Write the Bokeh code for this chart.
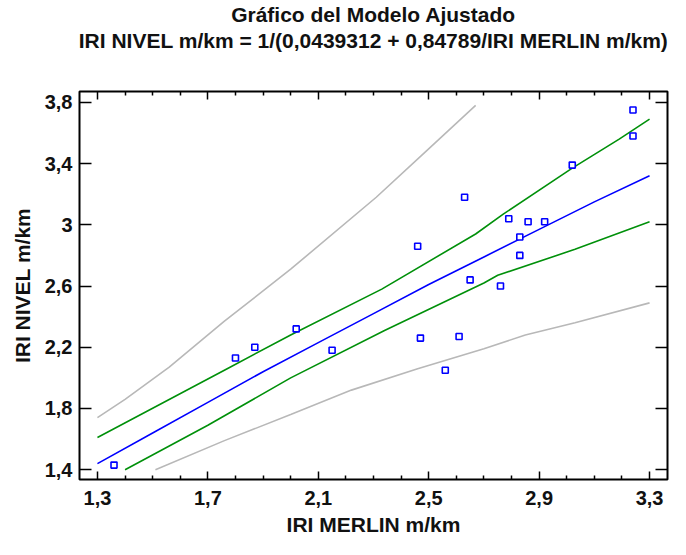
from bokeh.plotting import figure
from bokeh.models import Title, LinearAxis, FixedTicker, CustomJSTickFormatter, Range1d
from bokeh.embed import file_html
from bokeh.resources import INLINE

# ---- data ----
merlin = [1.36, 1.80, 1.87, 2.02, 2.15, 2.46, 2.47, 2.56, 2.61, 2.63,
          2.65, 2.76, 2.79, 2.83, 2.83, 2.86, 2.92, 3.02, 3.24, 3.24]
nivel = [1.43, 2.13, 2.20, 2.32, 2.18, 2.86, 2.26, 2.05, 2.27, 3.18,
         2.64, 2.60, 3.04, 2.80, 2.92, 3.02, 3.02, 3.39, 3.75, 3.58]

fit_x = [1.3, 1.5, 1.7, 1.9, 2.1, 2.3, 2.5, 2.7, 2.9, 3.1, 3.3]
fit_y = [1.44, 1.64, 1.84, 2.04, 2.23, 2.42, 2.61, 2.79, 2.97, 3.15, 3.32]

conf_up_x = [1.30, 1.77, 2.00, 2.33, 2.67, 2.77, 3.02, 3.19, 3.30]
conf_up_y = [1.61, 2.06, 2.28, 2.58, 2.94, 3.07, 3.37, 3.56, 3.69]

conf_lo_x = [1.40, 1.70, 2.00, 2.34, 2.70, 2.75, 3.03, 3.30]
conf_lo_y = [1.40, 1.69, 2.00, 2.31, 2.62, 2.67, 2.84, 3.02]

pred_up_x = [1.30, 1.40, 1.56, 1.76, 2.00, 2.31, 2.49, 2.67]
pred_up_y = [1.74, 1.86, 2.07, 2.37, 2.71, 3.18, 3.48, 3.78]

pred_lo_x = [1.51, 1.76, 2.00, 2.22, 2.46, 2.70, 2.85, 3.03, 3.30]
pred_lo_y = [1.40, 1.59, 1.76, 1.92, 2.06, 2.19, 2.28, 2.36, 2.49]

x_ticks = [1.3, 1.7, 2.1, 2.5, 2.9, 3.3]
x_tick_labels = ["1,3", "1,7", "2,1", "2,5", "2,9", "3,3"]
x_minor_ticks = [1.4, 1.5, 1.6, 1.8, 1.9, 2.0, 2.2, 2.3, 2.4,
                 2.6, 2.7, 2.8, 3.0, 3.1, 3.2]
y_ticks = [1.4, 1.8, 2.2, 2.6, 3.0, 3.4, 3.8]
y_tick_labels = ["1,4", "1,8", "2,2", "2,6", "3", "3,4", "3,8"]

title_1 = "Gráfico del Modelo Ajustado"
title_2 = "IRI NIVEL m/km = 1/(0,0439312 + 0,84789/IRI MERLIN m/km)"
x_label = "IRI MERLIN m/km"
y_label = "IRI NIVEL m/km"

FONT = "Liberation Sans"
BLUE = "#0000ff"
GREEN = "#00900a"
GRAY = "#b8b8b8"

p = figure(frame_width=588, frame_height=388,
           x_range=Range1d(1.235, 3.365), y_range=Range1d(1.336, 3.871),
           output_backend="svg", toolbar_location=None, title=None,
           min_border_left=79, min_border_right=3,
           min_border_top=5, min_border_bottom=58)
p.background_fill_color = "white"
p.border_fill_color = "white"
p.outline_line_color = "black"
p.outline_line_width = 2
p.xgrid.visible = False
p.ygrid.visible = False

fmt_code = "const i = tv.findIndex(t => Math.abs(t - tick) < 1e-9); return i >= 0 ? tl[i] : '';"


def style(ax, ticks, labels, minor, tick_len, show):
    ax.ticker = FixedTicker(ticks=ticks, minor_ticks=minor)
    if show:
        ax.formatter = CustomJSTickFormatter(args=dict(tv=ticks, tl=labels), code=fmt_code)
    else:
        ax.formatter = CustomJSTickFormatter(code="return '';")
        ax.major_label_text_font_size = "0px"
    ax.axis_line_color = None
    ax.major_tick_in = tick_len
    ax.major_tick_out = 0
    ax.minor_tick_in = 4
    ax.minor_tick_out = 0
    ax.major_tick_line_color = "black"
    ax.major_tick_line_width = 1.5
    ax.minor_tick_line_color = "black"
    ax.minor_tick_line_width = 1.5
    ax.major_label_text_font = FONT
    ax.major_label_text_font_style = "bold"
    ax.major_label_text_color = "#111111"
    ax.axis_label_text_font = FONT
    ax.axis_label_text_font_style = "bold"
    ax.axis_label_text_color = "#111111"


xa = p.xaxis[0]
ya = p.yaxis[0]
style(xa, x_ticks, x_tick_labels, x_minor_ticks, 8, True)
style(ya, y_ticks, y_tick_labels, [], 12, True)
xa.major_label_text_font_size = "20px"
ya.major_label_text_font_size = "20px"
xa.major_label_standoff = 11
ya.major_label_standoff = 7
xa.axis_label = x_label
ya.axis_label = y_label
xa.axis_label_text_font_size = "21px"
ya.axis_label_text_font_size = "21px"
xa.axis_label_standoff = 5
ya.axis_label_standoff = 8

# top axis: mirrored ticks; its axis label carries the second title line
top = LinearAxis()
style(top, x_ticks, x_tick_labels, x_minor_ticks, 8, False)
top.major_label_standoff = 0
top.axis_label = title_2
top.axis_label_text_font_size = "21px"
top.axis_label_standoff = 40
p.add_layout(top, "above")

right = LinearAxis()
style(right, y_ticks, y_tick_labels, [], 12, False)
right.major_label_standoff = 0
p.add_layout(right, "right")

t1 = Title(text=title_1, align="center", text_font=FONT, text_font_size="21px",
           text_font_style="bold", text_color="#111111", standoff=0)
p.add_layout(t1, "above")

lw = 1.6
p.line(pred_up_x, pred_up_y, line_color=GRAY, line_width=lw)
p.line(pred_lo_x, pred_lo_y, line_color=GRAY, line_width=lw)
p.line(conf_up_x, conf_up_y, line_color=GREEN, line_width=lw)
p.line(conf_lo_x, conf_lo_y, line_color=GREEN, line_width=lw)
p.line(fit_x, fit_y, line_color=BLUE, line_width=lw)
p.scatter(merlin, nivel, marker="square", size=6, fill_color="white",
          line_color=BLUE, line_width=1.6)

open("out.html", "w").write(file_html(p, INLINE))
